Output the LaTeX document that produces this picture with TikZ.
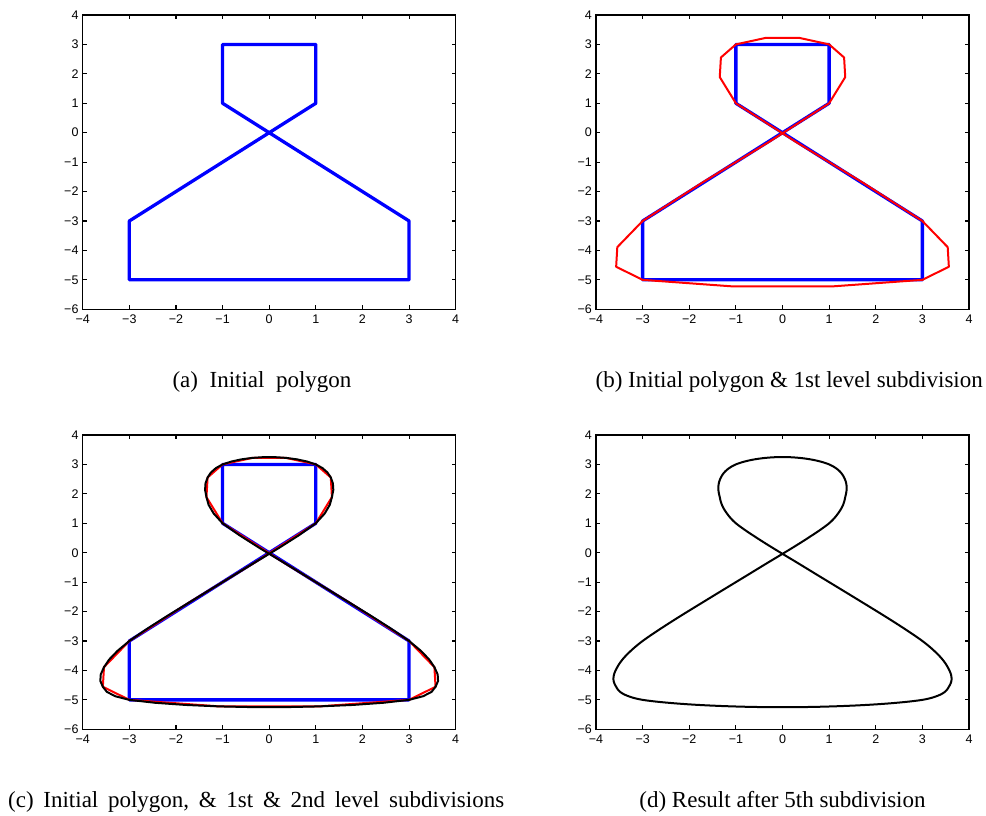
\documentclass[tikz,border=0pt]{standalone}
\usepackage{fontspec}
\setmainfont{Liberation Serif}
\newfontfamily\axisfont{Liberation Sans}
\usepackage{tikz}

% ternary 4-point subdivision of the closed polygon
\ExplSyntaxOn
\fp_new:N \l_sub_ax_fp \fp_new:N \l_sub_ay_fp
\fp_new:N \l_sub_bx_fp \fp_new:N \l_sub_by_fp
\fp_new:N \l_sub_cx_fp \fp_new:N \l_sub_cy_fp
\fp_new:N \l_sub_dx_fp \fp_new:N \l_sub_dy_fp
\int_new:N \l_sub_k_int
\seq_new:N \l_sub_pts_seq
\seq_new:N \l_sub_new_seq
\tl_new:N \l_sub_tmp_tl
\tl_new:N \l_sub_path_tl

\cs_new:Npn \sub_w:nnnnn #1#2#3#4#5
  {
    \fp_eval:n
      {
        round ( ( (#1) * \use:c { l_sub_a #5 _fp }
                + (#2) * \use:c { l_sub_b #5 _fp }
                + (#3) * \use:c { l_sub_c #5 _fp }
                + (#4) * \use:c { l_sub_d #5 _fp } ) / 81 , 5 )
      }
  }

\cs_new_protected:Npn \sub_emit:nn #1#2
  {
    \fp_set:Nn \l_sub_dx_fp {#1}
    \fp_set:Nn \l_sub_dy_fp {#2}
    \seq_put_right:Nx \l_sub_new_seq
      { { \fp_use:N \l_sub_bx_fp } { \fp_use:N \l_sub_by_fp } }
    \seq_put_right:Nx \l_sub_new_seq
      { { \sub_w:nnnnn {-5} {60} {30} {-4} {x} }
        { \sub_w:nnnnn {-5} {60} {30} {-4} {y} } }
    \seq_put_right:Nx \l_sub_new_seq
      { { \sub_w:nnnnn {-4} {30} {60} {-5} {x} }
        { \sub_w:nnnnn {-4} {30} {60} {-5} {y} } }
    \fp_set_eq:NN \l_sub_ax_fp \l_sub_bx_fp
    \fp_set_eq:NN \l_sub_ay_fp \l_sub_by_fp
    \fp_set_eq:NN \l_sub_bx_fp \l_sub_cx_fp
    \fp_set_eq:NN \l_sub_by_fp \l_sub_cy_fp
    \fp_set_eq:NN \l_sub_cx_fp \l_sub_dx_fp
    \fp_set_eq:NN \l_sub_cy_fp \l_sub_dy_fp
  }

\cs_new_protected:Npn \sub_feed:nn #1#2
  {
    \int_incr:N \l_sub_k_int
    \int_case:nnF { \l_sub_k_int }
      {
        { 1 } { \fp_set:Nn \l_sub_bx_fp {#1} \fp_set:Nn \l_sub_by_fp {#2} }
        { 2 } { \fp_set:Nn \l_sub_cx_fp {#1} \fp_set:Nn \l_sub_cy_fp {#2} }
      }
      { \sub_emit:nn {#1} {#2} }
  }

\cs_new_protected:Npn \sub_seta:nn #1#2
  { \fp_set:Nn \l_sub_ax_fp {#1} \fp_set:Nn \l_sub_ay_fp {#2} }

\cs_new_protected:Npn \sub_refine:
  {
    \seq_clear:N \l_sub_new_seq
    \int_zero:N \l_sub_k_int
    \seq_get_right:NN \l_sub_pts_seq \l_sub_tmp_tl
    \exp_after:wN \sub_seta:nn \l_sub_tmp_tl
    \seq_map_inline:Nn \l_sub_pts_seq { \sub_feed:nn ##1 }
    \seq_get_left:NN \l_sub_pts_seq \l_sub_tmp_tl
    \exp_after:wN \sub_emit:nn \l_sub_tmp_tl
    \tl_set:Nx \l_sub_tmp_tl { \seq_item:Nn \l_sub_pts_seq { 2 } }
    \exp_after:wN \sub_emit:nn \l_sub_tmp_tl
    \seq_set_eq:NN \l_sub_pts_seq \l_sub_new_seq
  }

\cs_new_protected:Npn \sub_addpt:nn #1#2
  { \tl_put_right:Nn \l_sub_path_tl { (#1,#2)~--~ } }

\cs_new_protected:Npn \sub_path:N #1
  {
    \tl_clear:N \l_sub_path_tl
    \seq_map_inline:Nn \l_sub_pts_seq { \sub_addpt:nn ##1 }
    \tl_gset_eq:NN #1 \l_sub_path_tl
  }

\seq_set_from_clist:Nn \l_sub_pts_seq
  { {-1}{3}, {1}{3}, {1}{1}, {-3}{-3}, {-3}{-5}, {3}{-5}, {3}{-3}, {-1}{1} }
\sub_path:N \PolyInit
\sub_refine: \sub_path:N \PolyOne
\sub_refine: \sub_path:N \PolyTwo
\sub_refine: \sub_refine: \sub_refine: \sub_path:N \PolyFive
\ExplSyntaxOff

% box, ticks and tick labels of one plot
\newcommand{\axesframe}[1]{%
  \draw[axisline] (-4,-6) rectangle (4,4);
  \foreach \v in {-4,...,4} {
    \draw[axisline] (\v,-6) -- ++(0,4pt);
    \draw[axisline] (\v,4) -- ++(0,-4pt);
    \node[ticklabel, anchor=north] (#1x\v) at ([yshift=-5.5pt]\v,-6)
      {\ifnum\v<0 −\number-\v\else\v\fi};
  }
  \foreach \v in {-6,...,4} {
    \draw[axisline] (-4,\v) -- ++(4pt,0);
    \draw[axisline] (4,\v) -- ++(-4pt,0);
    \node[ticklabel, anchor=east] (#1y\v) at ([xshift=-4pt]-4,\v)
      {\ifnum\v<0 −\number-\v\else\v\fi};
  }
}

\begin{document}
\begin{tikzpicture}[x=1pt, y=1pt]

% Styles
\tikzset{
  axisline/.style={line width=1.1pt, black},
  ticklabel/.style={font=\axisfont\fontsize{12.5}{14}\selectfont, inner sep=0pt},
  polyline/.style={line width=3.3pt, blue, line join=round},
  levelone/.style={line width=2pt, red, line join=round},
  leveltwo/.style={line width=2pt, black, line join=round},
  caption/.style={font=\fontsize{23}{27}\selectfont, inner sep=0pt},
  widecap/.style={caption, execute at begin node={\spaceskip=#1\relax}}
}

\useasboundingbox (0,0) rectangle (986,815);

% (a) initial polygon
\begin{scope}[shift={(269.2pt,682.3pt)}, x=46.625pt, y=29.43pt]
  \axesframe{a}
  \draw[polyline] \PolyInit cycle;
\end{scope}

% (b) initial polygon and first level
\begin{scope}[shift={(782.5pt,682.3pt)}, x=46.625pt, y=29.43pt]
  \axesframe{b}
  \draw[polyline] \PolyInit cycle;
  \draw[levelone] \PolyOne cycle;
\end{scope}

% (c) first and second level
\begin{scope}[shift={(269.2pt,262.3pt)}, x=46.625pt, y=29.43pt]
  \axesframe{c}
  \draw[polyline] \PolyInit cycle;
  \draw[levelone] \PolyOne cycle;
  \draw[leveltwo] \PolyTwo cycle;
\end{scope}

% (d) after 5 steps
\begin{scope}[shift={(782.5pt,262.3pt)}, x=46.625pt, y=29.43pt]
  \axesframe{d}
  \draw[leveltwo] \PolyFive cycle;
\end{scope}

% Captions
\node[widecap=11.5pt, anchor=base] (capa) at (262,427.3) {(a) Initial polygon};
\node[caption, anchor=base east] (capb) at (983,427.3) {(b) Initial polygon \& 1st level subdivision};
\node[widecap=9.7pt, anchor=base west] (capc) at (8,7.3) {(c) Initial polygon, \& 1st \& 2nd level subdivisions};
\node[caption, anchor=base] (capd) at (782.5,7.3) {(d) Result after 5th subdivision};

\end{tikzpicture}
\end{document}
